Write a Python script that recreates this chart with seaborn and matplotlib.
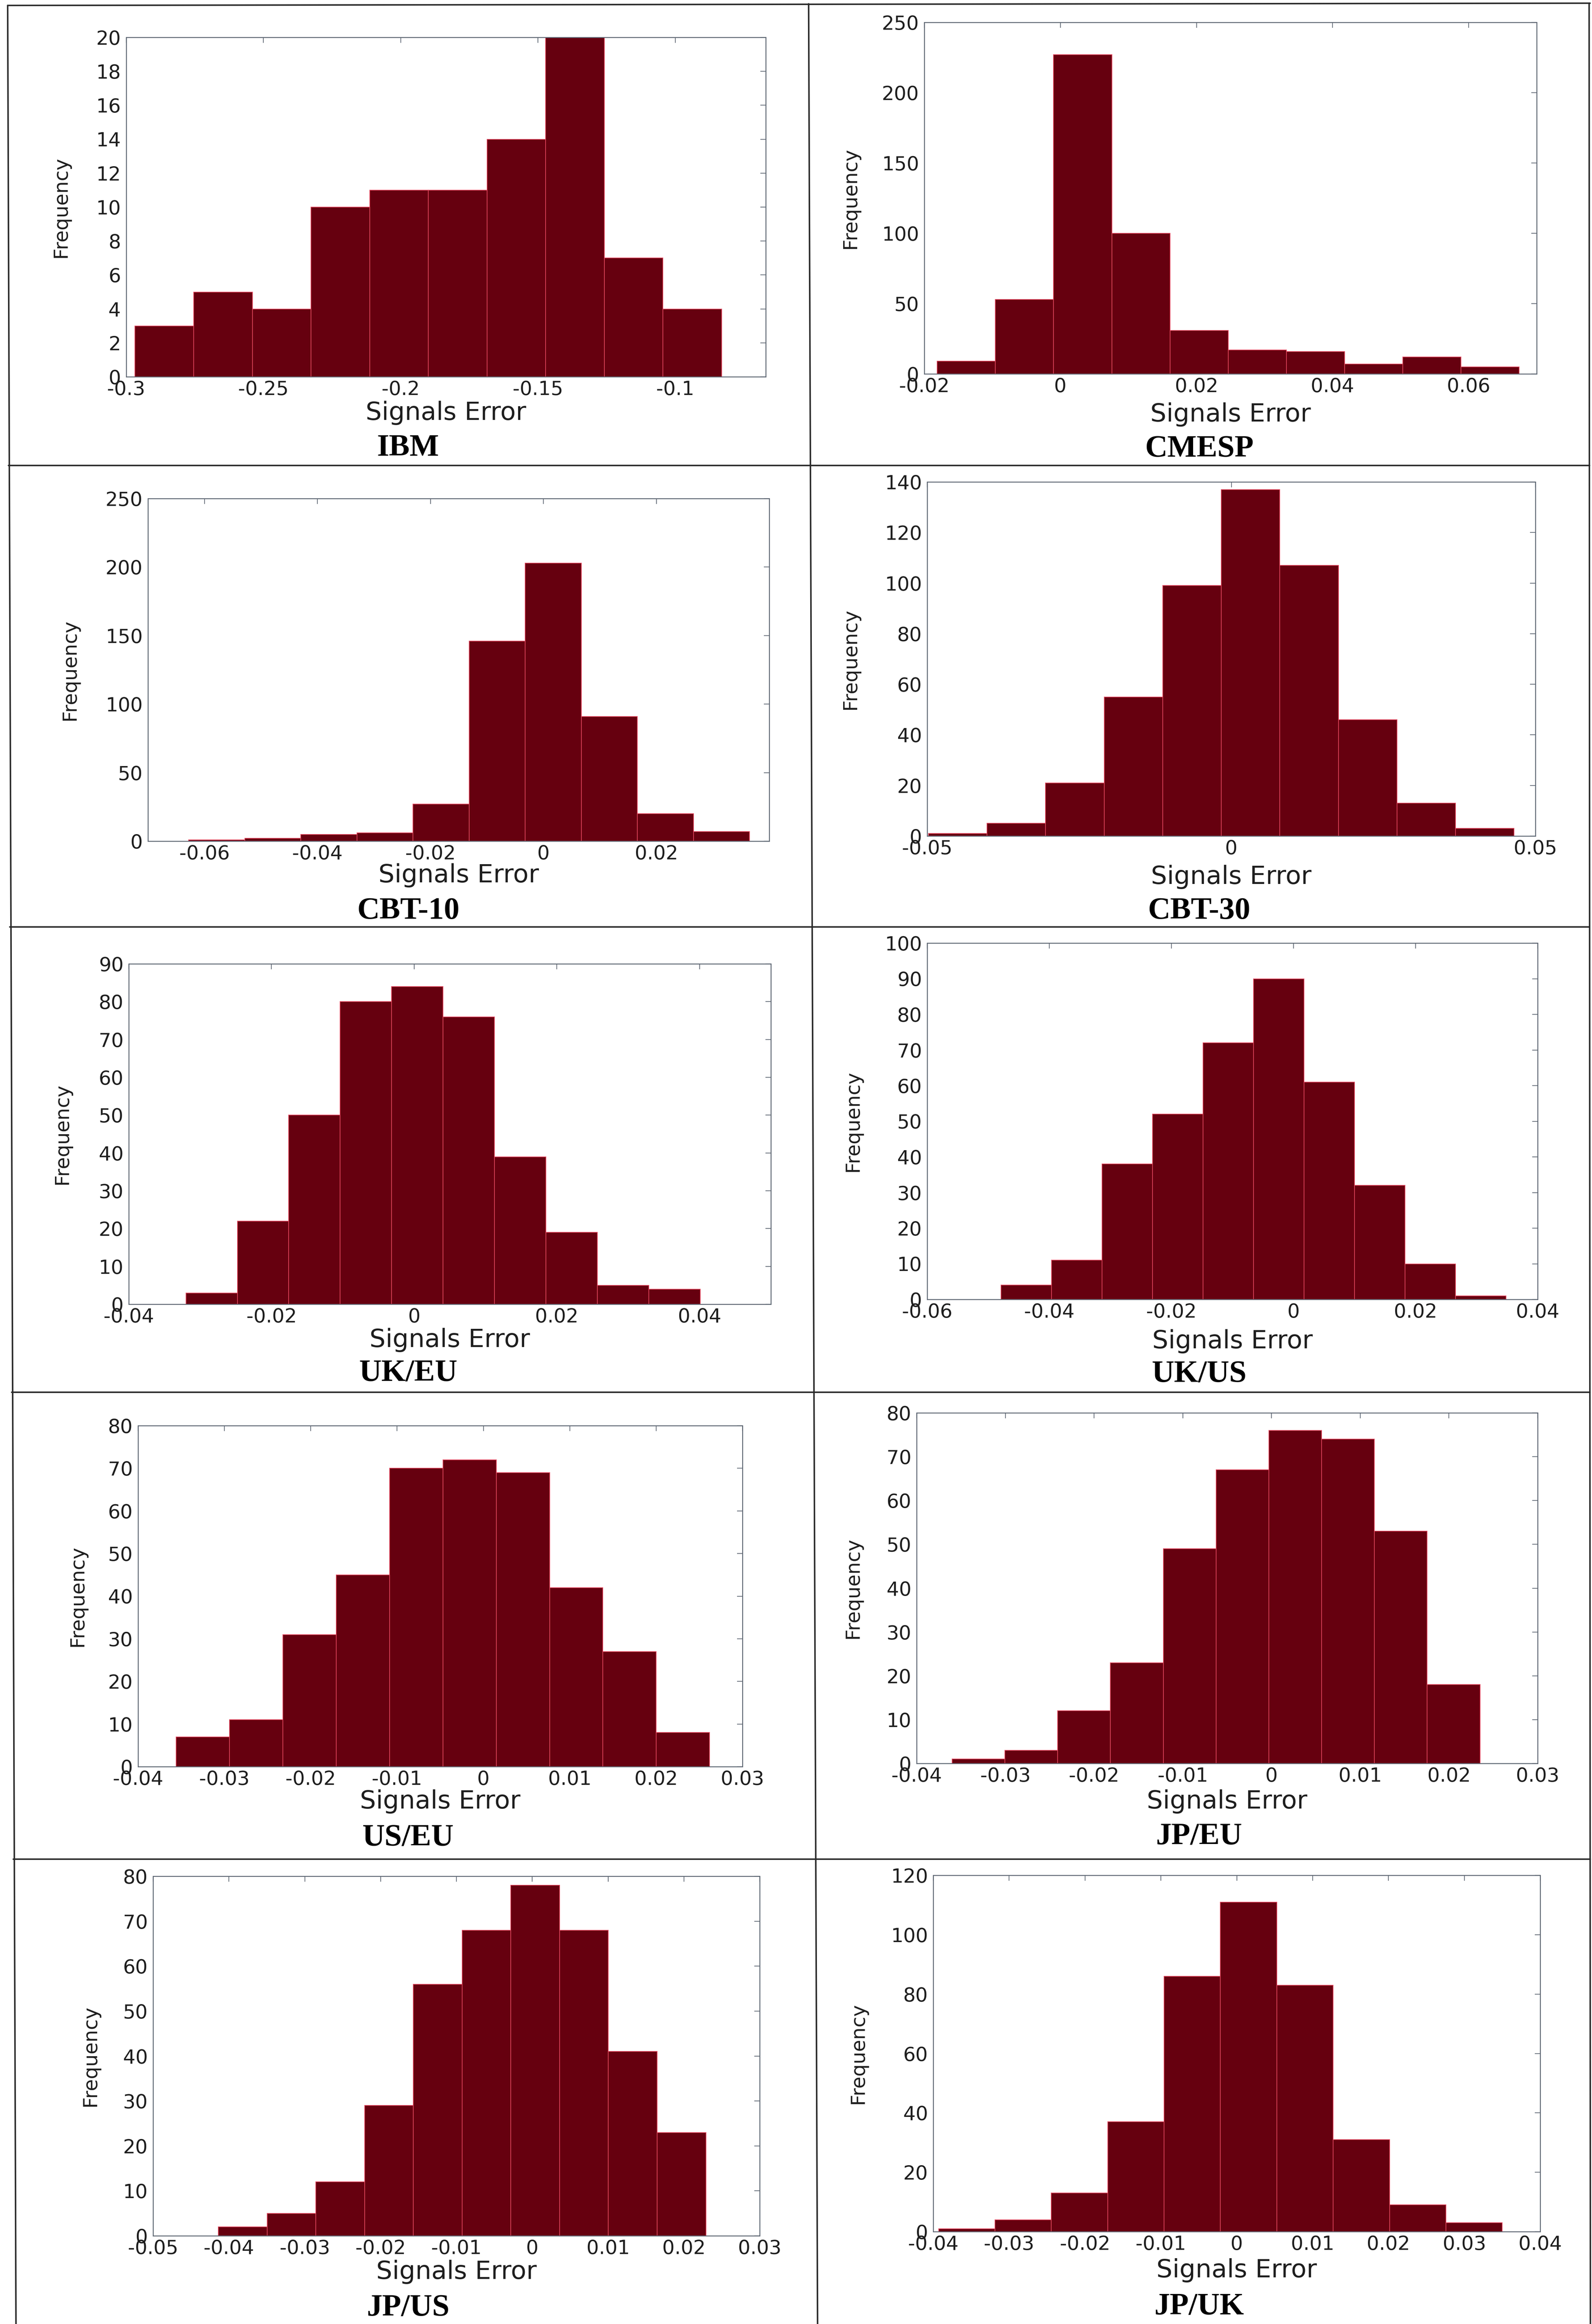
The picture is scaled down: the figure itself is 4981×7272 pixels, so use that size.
import numpy as np
import pandas as pd
import matplotlib
matplotlib.use("Agg")
import matplotlib.pyplot as plt
from matplotlib.lines import Line2D
import seaborn as sns

# ---------------------------------------------------------------- data
panel_names = ["IBM", "CMESP", "CBT-10", "CBT-30", "UK/EU",
               "UK/US", "US/EU", "JP/EU", "JP/US", "JP/UK"]

ibm_counts   = [3, 5, 4, 10, 11, 11, 14, 20, 7, 4]
cmesp_counts = [9, 53, 227, 100, 31, 17, 16, 7, 12, 5]
cbt10_counts = [1, 2, 5, 6, 27, 146, 203, 91, 20, 7]
cbt30_counts = [1, 5, 21, 55, 99, 137, 107, 46, 13, 3]
ukeu_counts  = [3, 22, 50, 80, 84, 76, 39, 19, 5, 4]
ukus_counts  = [4, 11, 38, 52, 72, 90, 61, 32, 10, 1]
useu_counts  = [7, 11, 31, 45, 70, 72, 69, 42, 27, 8]
jpeu_counts  = [1, 3, 12, 23, 49, 67, 76, 74, 53, 18]
jpus_counts  = [2, 5, 12, 29, 56, 68, 78, 68, 41, 23]
jpuk_counts  = [1, 4, 13, 37, 86, 111, 83, 31, 9, 3]

# range of the signal errors covered by the ten bins of each panel
bin_ranges = [(-0.2968, -0.0831), (-0.0181, 0.0674), (-0.0628, 0.0365),
              (-0.0498, 0.0465), (-0.0320, 0.0401), (-0.0479, 0.0348),
              (-0.0356, 0.0262), (-0.0360, 0.0235), (-0.0414, 0.0229),
              (-0.0393, 0.0350)]

x_limits = [(-0.3, -0.067), (-0.02, 0.07), (-0.07, 0.04), (-0.05, 0.05),
            (-0.04, 0.05), (-0.06, 0.04), (-0.04, 0.03), (-0.04, 0.03),
            (-0.05, 0.03), (-0.04, 0.04)]

x_tick_values = [
    [-0.3, -0.25, -0.2, -0.15, -0.1],
    [-0.02, 0, 0.02, 0.04, 0.06],
    [-0.06, -0.04, -0.02, 0, 0.02],
    [-0.05, 0, 0.05],
    [-0.04, -0.02, 0, 0.02, 0.04],
    [-0.06, -0.04, -0.02, 0, 0.02, 0.04],
    [-0.04, -0.03, -0.02, -0.01, 0, 0.01, 0.02, 0.03],
    [-0.04, -0.03, -0.02, -0.01, 0, 0.01, 0.02, 0.03],
    [-0.05, -0.04, -0.03, -0.02, -0.01, 0, 0.01, 0.02, 0.03],
    [-0.04, -0.03, -0.02, -0.01, 0, 0.01, 0.02, 0.03, 0.04],
]

y_max = [20, 250, 250, 140, 90, 100, 80, 80, 80, 120]
y_step = [2, 50, 50, 20, 10, 10, 10, 10, 10, 20]

all_counts = [ibm_counts, cmesp_counts, cbt10_counts, cbt30_counts, ukeu_counts,
              ukus_counts, useu_counts, jpeu_counts, jpus_counts, jpuk_counts]

# ---------------------------------------------------------------- layout (pixels)
W, H, DPI = 4981, 7272, 100

# axes boxes: left, top, right, bottom
axes_boxes = [
    (395, 117, 2396, 1179), (2892, 70, 4808, 1170),
    (463, 1560, 2407, 2632), (2901, 1508, 4804, 2616),
    (403, 3016, 2412, 4081), (2901, 2951, 4811, 4066),
    (432, 4461, 2323, 5528), (2868, 4421, 4811, 5518),
    (479, 5871, 2377, 6996), (2920, 5868, 4819, 6983),
]
xlabel_y = [1292, 1297, 2739, 2744, 4193, 4197, 5637, 5637, 7109, 7104]
title_y = [1402, 1406, 2852, 2852, 4297, 4301, 5752, 5747, 7223, 7218]
ylabel_x = [190, 2661, 218, 2661, 194, 2669, 242, 2669, 282, 2685]
cell_centers_x = [1277, 3752]

BAR = "#66000f"
EDGE = "#e2475e"
SPINE = "#5b6470"
TEXT = "#1e1e1e"

sns.set_style("white")
plt.rcParams["font.family"] = ["DejaVu Sans"]

fig = plt.figure(figsize=(W / DPI, H / DPI), dpi=DPI)
fig.patch.set_facecolor("white")


def fx(px):
    return px / W


def fy(py):
    return 1 - py / H


for i, name in enumerate(panel_names):
    l, t, r, b = axes_boxes[i]
    ax = fig.add_axes([fx(l), fy(b), (r - l) / W, (b - t) / H])
    lo, hi = bin_ranges[i]
    nbins = len(all_counts[i])
    width = (hi - lo) / nbins
    centers = lo + width * (np.arange(nbins) + 0.5)
    df = pd.DataFrame({"err": centers, "n": np.asarray(all_counts[i], float)})
    sns.histplot(data=df, x="err", weights="n", bins=nbins, binrange=(lo, hi),
                 stat="count", ax=ax, color=BAR, edgecolor=EDGE,
                 linewidth=1.5, alpha=1.0)
    ax.set_xlim(*x_limits[i])
    ax.set_ylim(0, y_max[i])
    ax.set_xticks(x_tick_values[i])
    ax.set_xticklabels([f"{v:g}" for v in x_tick_values[i]])
    yt = np.arange(0, y_max[i] + y_step[i] / 2, y_step[i])
    ax.set_yticks(yt)
    ax.set_yticklabels([f"{int(v)}" for v in yt])
    ax.set_xlabel("")
    ax.set_ylabel("")
    ax.tick_params(axis="both", direction="in", length=12, width=1.6,
                   top=True, right=True, color=SPINE, labelcolor=TEXT,
                   labelsize=44)
    ax.tick_params(axis="x", pad=8)
    ax.tick_params(axis="y", pad=12)
    for sp in ax.spines.values():
        sp.set_color(SPINE)
        sp.set_linewidth(2.0)
        sp.set_visible(True)
    ax.set_facecolor("white")

    cx = (l + r) / 2
    fig.text(fx(cx), fy(xlabel_y[i]), "Signals Error", ha="center",
             va="center", fontsize=57, color=TEXT)
    fig.text(fx(ylabel_x[i]), fy((t + b) / 2), "Frequency", ha="center",
             va="center", rotation=90, fontsize=44, color=TEXT)
    fig.text(fx(cell_centers_x[i % 2]), fy(title_y[i]), name, ha="center",
             va="center", fontsize=70, fontweight="bold", color="black",
             family=["Liberation Serif", "DejaVu Serif"])

# table rules around the panels
rule_kw = dict(transform=fig.transFigure, color="#2a2a2a", linewidth=3.4)
table_rules = [
    ((24, 17), (4975, 10)),
    ((24, 17), (50, 7272)),
    ((2530, 12), (2558, 7272)),
    ((4972, 10), (4976, 7272)),
    ((26, 1456), (4973, 1456)),
    ((30, 2900), (4973, 2900)),
    ((36, 4356), (4974, 4356)),
    ((41, 5817), (4975, 5817)),
]
for (x0, y0), (x1, y1) in table_rules:
    fig.add_artist(Line2D([fx(x0), fx(x1)], [fy(y0), fy(y1)], **rule_kw))

fig.savefig("out.png", dpi=DPI, facecolor="white")
